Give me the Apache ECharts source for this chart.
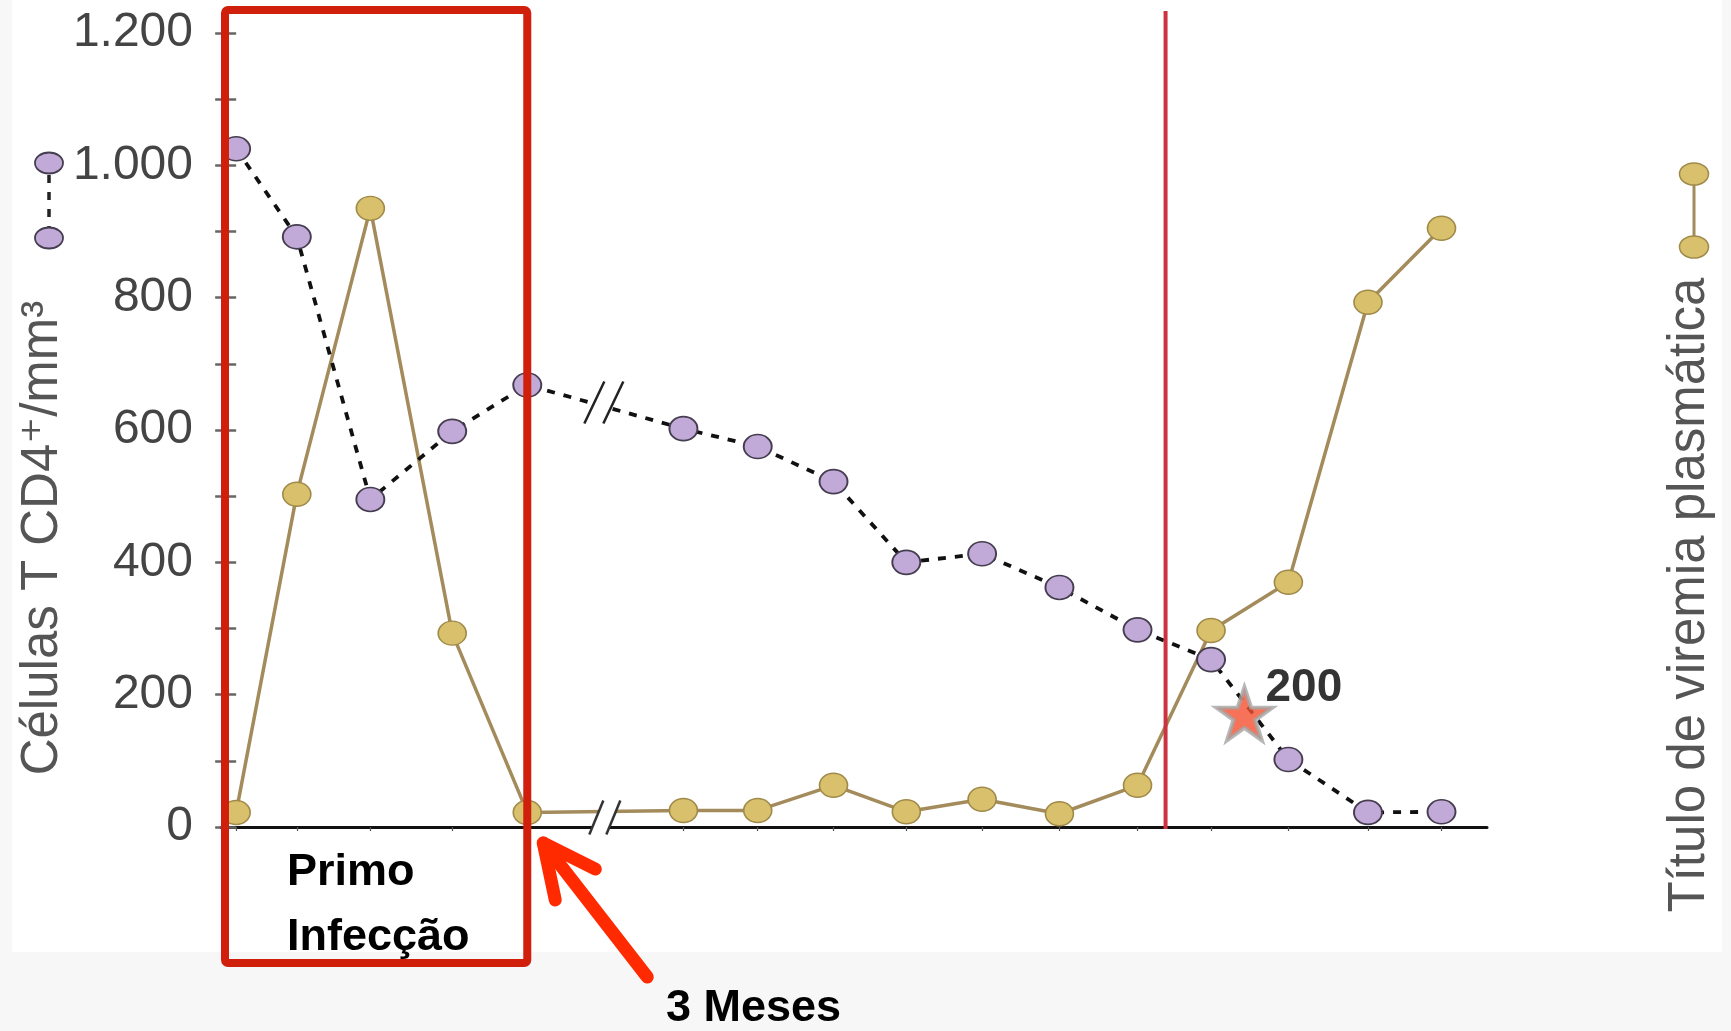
<!DOCTYPE html>
<html><head><meta charset="utf-8">
<script src="https://cdn.jsdelivr.net/npm/echarts@6/dist/echarts.min.js"></script>
<style>
html,body{margin:0;padding:0;background:#f7f7f7;width:1731px;height:1031px;overflow:hidden}
#paper{position:absolute;left:12px;top:0;width:1710px;height:952px;background:#fff}
#chart{position:absolute;left:0;top:0;width:1731px;height:1031px}
</style></head><body>
<div id="paper"></div><div id="chart"></div>
<script>
// ---- data ----
const timePoints = [0, 0.8, 1.77, 2.85, 3.84, 5.9, 6.88, 7.88, 8.84, 9.84, 10.86, 11.89, 12.86, 13.88, 14.93, 15.9];
const cd4Counts  = [1025, 892, 495, 598, 668, 602, 575, 522, 400, 413, 362, 298, 253, 102, 22, 23];
const viremia    = [22, 503, 935, 293, 22, 25, 25, 63, 23, 42, 20, 63, 297, 370, 793, 905];
const yLabelValues = [0, 200, 400, 600, 800, 1000, 1200];
const starPoint = [13.3, 171];
const starLabel = '200';
const aidsLineX = 12.26;
const breakX = 4.85;
const yTitle = 'Células T CD4⁺/mm³';
const y2Title = 'Título de viremia plasmática';
const boxText = ['Primo', 'Infecção'];
const arrowText = '3 Meses';

function fmt(v){ return v >= 1000 ? Math.floor(v/1000) + '.' + String(v%1000).padStart(3,'0') : String(v); }

const chart = echarts.init(document.getElementById('chart'), null, {renderer:'canvas'});
const FONT = '"Liberation Sans", "DejaVu Sans", Arial, sans-serif';
const STAR = 'path://M50,0 L61.8,35.1 L98.9,35.1 L69.1,56.7 L80.3,91.9 L50,70.2 L19.7,91.9 L30.9,56.7 L1.1,35.1 L38.2,35.1 Z';

chart.setOption({
  backgroundColor: 'transparent',
  animation: false,
  grid: {left: 221, right: 244, top: 33, bottom: 204, containLabel: false},
  xAxis: {
    type: 'value', min: -0.2, max: 16.5,
    axisLine: {show: true, lineStyle: {color: '#111', width: 3}},
    axisTick: {show: true, customValues: timePoints, length: 4, lineStyle: {color: '#555', width: 1.2}},
    axisLabel: {show: false},
    splitLine: {show: false}
  },
  yAxis: {
    type: 'value', min: 0, max: 1200, interval: 100,
    axisLine: {show: false},
    axisTick: {show: true, length: 21, lineStyle: {color: '#666', width: 2.5}},
    axisLabel: {
      margin: 28, fontSize: 48, color: '#444', fontFamily: FONT,
      formatter: v => yLabelValues.indexOf(v) >= 0 ? fmt(v) : ''
    },
    splitLine: {show: false}
  },
  series: [
    {
      name: 'Título de viremia plasmática', type: 'line', z: 3,
      data: timePoints.map((t,i) => [t, viremia[i]]),
      symbol: 'circle', symbolSize: [28, 24],
      lineStyle: {color: '#a38b5b', width: 3.5},
      itemStyle: {color: '#d8c06c', borderColor: '#a08a4a', borderWidth: 1.5}
    },
    {
      name: 'Células T CD4', type: 'line', z: 4,
      data: timePoints.map((t,i) => [t, cd4Counts[i]]),
      symbol: 'circle', symbolSize: [28, 24],
      lineStyle: {color: '#111', width: 3.8, type: [8, 9]},
      itemStyle: {color: '#c1aad7', borderColor: '#463e50', borderWidth: 1.8}
    },
    {
      type: 'scatter', z: 6,
      data: [starPoint],
      symbol: STAR, symbolSize: [56, 53],
      itemStyle: {color: '#f4502f', borderColor: '#a5a5a5', borderWidth: 4},
      label: {show: true, formatter: starLabel, position: 'right', distance: -9, offset: [0, -26],
        fontSize: 46, fontWeight: 'bold', color: '#000', fontFamily: FONT}
    }
  ]
});

function px(x, y){ return chart.convertToPixel({gridIndex: 0}, [x, y]); }
function interp(arr, x){
  for (let i = 0; i < timePoints.length - 1; i++) {
    if (x >= timePoints[i] && x <= timePoints[i+1]) {
      const f = (x - timePoints[i]) / (timePoints[i+1] - timePoints[i]);
      return arr[i] + f * (arr[i+1] - arr[i]);
    }
  }
  return arr[0];
}
function breakMark(cx, cy, dx, dy, gap, color){
  const x1 = cx - gap/2, x2 = cx + gap/2;
  return [
    {type:'polygon', z:50, shape:{points:[[x1-dx,cy+dy],[x1+dx,cy-dy],[x2+dx,cy-dy],[x2-dx,cy+dy]]}, style:{fill:'#fff'}},
    {type:'line', z:51, shape:{x1:x1-dx,y1:cy+dy,x2:x1+dx,y2:cy-dy}, style:{stroke:color, lineWidth:2.5}},
    {type:'line', z:51, shape:{x1:x2-dx,y1:cy+dy,x2:x2+dx,y2:cy-dy}, style:{stroke:color, lineWidth:2.5}}
  ];
}

const g = [];
// break marks
const pb = px(breakX, interp(cd4Counts, breakX));
g.push(...breakMark(pb[0], pb[1] - 4, 10, 21, 19, '#222'));
const yb = px(breakX, interp(viremia, breakX));
g.push(...breakMark(yb[0] + 1, yb[1] + 6, 7, 17, 17, '#333'));

// vertical red line
const vl = px(aidsLineX, 0);
g.push({type:'line', z:60, shape:{x1:vl[0], y1:11, x2:vl[0], y2:vl[1] + 2}, style:{stroke:'#cc3340', lineWidth:4}});

// red box around primary infection
const bl = px(-0.2, 0), br = px(timePoints[4], 0);
g.push({type:'rect', z:70, shape:{x: bl[0] + 4, y: 10, width: br[0] - (bl[0] + 4), height: 953, r: 3},
  style:{fill:'none', stroke:'#d0200c', lineWidth:8}});
g.push({type:'text', z:71, x: bl[0] + 66, y: 873, style:{text: boxText[0], font: 'bold 45px ' + FONT, fill:'#000', align:'left', verticalAlign:'middle'}});
g.push({type:'text', z:71, x: bl[0] + 66, y: 938, style:{text: boxText[1], font: 'bold 45px ' + FONT, fill:'#000', align:'left', verticalAlign:'middle'}});

// arrow pointing to 3 months
const tip = [br[0] + 16, br[1] + 16];
g.push({type:'polyline', z:72, shape:{points:[[tip[0]+104, tip[1]+134], tip]}, style:{stroke:'#ff2a00', lineWidth:13, lineCap:'round', fill:null}});
g.push({type:'polyline', z:72, shape:{points:[[tip[0]+12, tip[1]+57], tip, [tip[0]+52, tip[1]+26]]}, style:{stroke:'#ff2a00', lineWidth:13, lineCap:'round', lineJoin:'round', fill:null}});
g.push({type:'text', z:72, x: 666, y: 1009, style:{text: arrowText, font: 'bold 45px ' + FONT, fill:'#000', align:'left', verticalAlign:'middle'}});

// axis titles
g.push({type:'text', z:40, x: 43, y: 538, rotation: Math.PI/2, style:{text: yTitle, font: '51px ' + FONT, fill:'#555', align:'center', verticalAlign:'middle'}});
g.push({type:'text', z:40, x: 1690, y: 595, rotation: Math.PI/2, style:{text: y2Title, font: '51px ' + FONT, fill:'#555', align:'center', verticalAlign:'middle'}});

// legend glyphs
g.push({type:'line', z:40, shape:{x1:49, y1:175, x2:49, y2:227}, style:{stroke:'#222', lineWidth:3.5, lineDash:[8, 9]}});
g.push({type:'ellipse', z:41, shape:{cx:49, cy:163, rx:14, ry:10.5}, style:{fill:'#c1aad7', stroke:'#463e50', lineWidth:1.8}});
g.push({type:'ellipse', z:41, shape:{cx:49, cy:238, rx:14, ry:10.5}, style:{fill:'#c1aad7', stroke:'#463e50', lineWidth:1.8}});
g.push({type:'line', z:40, shape:{x1:1694, y1:174, x2:1694, y2:247}, style:{stroke:'#a38b5b', lineWidth:3}});
g.push({type:'ellipse', z:41, shape:{cx:1694, cy:174, rx:14.5, ry:11}, style:{fill:'#d8c06c', stroke:'#a08a4a', lineWidth:1.5}});
g.push({type:'ellipse', z:41, shape:{cx:1694, cy:247, rx:14.5, ry:11}, style:{fill:'#d8c06c', stroke:'#a08a4a', lineWidth:1.5}});

chart.setOption({graphic: g});
</script>
</body></html>
